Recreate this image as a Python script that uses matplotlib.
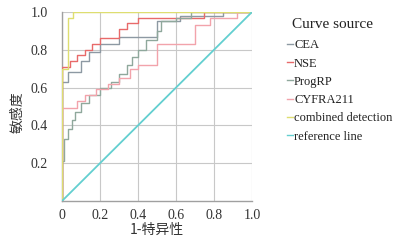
import matplotlib
matplotlib.use("Agg")
import matplotlib.pyplot as plt
from matplotlib.lines import Line2D

plt.rcParams['font.family'] = ['Liberation Serif', 'Noto Sans CJK SC']

series_names = ["CEA", "NSE", "ProgRP", "CYFRA211", "combined detection", "reference line"]
colors = ["#8d99a3", "#e86a6a", "#8fa89c", "#f2a3ab", "#dede70", "#63cfd0"]

cea_fpr = [0, 0, 0.03, 0.03, 0.1, 0.1, 0.14, 0.14, 0.2, 0.2, 0.3, 0.3, 0.5, 0.5, 0.62, 0.62, 0.85, 0.85, 1]
cea_tpr = [0, 0.63, 0.63, 0.68, 0.68, 0.74, 0.74, 0.79, 0.79, 0.83, 0.83, 0.87, 0.87, 0.95, 0.95, 0.98, 0.98, 1.0, 1.0]

nse_fpr = [0, 0, 0.04, 0.04, 0.08, 0.08, 0.12, 0.12, 0.16, 0.16, 0.2, 0.2, 0.3, 0.3, 0.34, 0.34, 0.4, 0.4, 0.75, 0.75, 1]
nse_tpr = [0, 0.71, 0.71, 0.74, 0.74, 0.77, 0.77, 0.80, 0.80, 0.83, 0.83, 0.86, 0.86, 0.91, 0.91, 0.94, 0.94, 0.97, 0.97, 1.0, 1.0]

pro_fpr = [0, 0, 0.01, 0.01, 0.03, 0.03, 0.05, 0.05, 0.07, 0.07, 0.1, 0.1, 0.14, 0.14, 0.2, 0.2, 0.26, 0.26, 0.3, 0.3,
           0.34, 0.34, 0.37, 0.37, 0.4, 0.4, 0.44, 0.44, 0.5, 0.5, 0.52, 0.52, 0.6, 0.6, 0.68, 0.68, 1]
pro_tpr = [0, 0.21, 0.21, 0.33, 0.33, 0.38, 0.38, 0.43, 0.43, 0.47, 0.47, 0.52, 0.52, 0.56, 0.56, 0.6, 0.6, 0.63, 0.63, 0.67,
           0.67, 0.72, 0.72, 0.76, 0.76, 0.8, 0.8, 0.85, 0.85, 0.9, 0.9, 0.95, 0.95, 0.97, 0.97, 1.0, 1.0]

cyf_fpr = [0, 0, 0.08, 0.08, 0.12, 0.12, 0.18, 0.18, 0.24, 0.24, 0.3, 0.3, 0.36, 0.36, 0.4, 0.4, 0.5, 0.5,
           0.7, 0.7, 0.78, 0.78, 0.92, 0.92, 1]
cyf_tpr = [0, 0.49, 0.49, 0.53, 0.53, 0.56, 0.56, 0.59, 0.59, 0.62, 0.62, 0.65, 0.65, 0.7, 0.7, 0.72, 0.72, 0.83,
           0.83, 0.93, 0.93, 0.97, 0.97, 1.0, 1.0]

com_fpr = [0, 0, 0.03, 0.03, 0.06, 0.06, 1]
com_tpr = [0, 0.7, 0.7, 0.97, 0.97, 1.0, 1.0]

ref_fpr = [0, 1]
ref_tpr = [0, 1]

xs = [cea_fpr, nse_fpr, pro_fpr, cyf_fpr, com_fpr, ref_fpr]
ys = [cea_tpr, nse_tpr, pro_tpr, cyf_tpr, com_tpr, ref_tpr]

xticks = [0, 0.2, 0.4, 0.6, 0.8, 1.0]
xticklabels = ["0", "0.2", "0.4", "0.6", "0.8", "1.0"]
yticks = [0.2, 0.4, 0.6, 0.8, 1.0]
yticklabels = ["0.2", "0.4", "0.6", "0.8", "1.0"]

fig = plt.figure(figsize=(4.09, 2.45), dpi=100)
ax = fig.add_axes([62/409, 44/245, 190/409, 189/245])

for x, y, c in zip(xs, ys, colors):
    lw = 1.3 if c == colors[-1] else 1.0
    ax.plot(x, y, color=c, lw=lw, zorder=3)

ax.set_xlim(0, 1)
ax.set_ylim(0, 1)
ax.set_xticks(xticks)
ax.set_xticklabels(xticklabels)
ax.set_yticks(yticks)
ax.set_yticklabels(yticklabels)
ax.tick_params(length=0, labelsize=10, colors="#333333", pad=6)
ax.tick_params(axis='y', pad=10)
ax.grid(True, color="#c8c8c8", lw=0.8, zorder=0)
for s in ["top", "right"]:
    ax.spines[s].set_visible(False)
for s in ["left", "bottom"]:
    ax.spines[s].set_color("#a0a0a0")
    ax.spines[s].set_linewidth(1.0)

fig.text(18/409, 1 - 112/245, "敏感度", rotation=90, ha="center", va="center",
         fontsize=10, family=['Noto Sans CJK SC'], color="#333333")
fig.text(157/409, 1 - 230/245, "1-特异性", ha="center", va="center",
         fontsize=10, family=['Noto Sans CJK SC'], color="#333333")

fig.text(292/409, 1 - 24/245, "Curve source", ha="left", va="center",
         fontsize=11, color="#222222")

handles = [Line2D([0], [0], color=c, lw=1.0) for c in colors]
leg = fig.legend(handles, series_names, loc="upper left",
                 bbox_to_anchor=(281/409, 1 - 33/245), frameon=False, fontsize=9,
                 handlelength=0.45, handletextpad=0.1,
                 labelspacing=0.5, borderpad=0)
for t in leg.get_texts():
    t.set_color("#222222")

fig.savefig("out.png", dpi=100)
